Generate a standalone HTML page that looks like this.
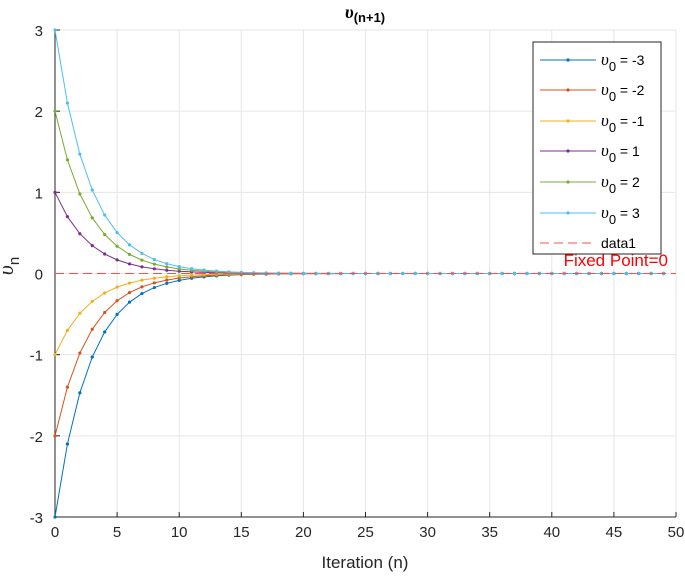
<!DOCTYPE html>
<html><head><meta charset="utf-8"><style>
body{margin:0;background:#fff}
svg{display:block;font-family:"Liberation Sans",sans-serif}
</style></head><body>
<svg id="c" width="685" height="577"></svg>
<script>
const iterations = [];
for (let i = 0; i < 50; i++) iterations.push(i);
const xTicks = [0,5,10,15,20,25,30,35,40,45,50];
const yTicks = [-3,-2,-1,0,1,2,3];
const seriesLabels = ['-3','-2','-1','1','2','3'];
const seriesColors = ['#0072BD','#D95319','#EDB120','#7E2F8E','#77AC30','#4DBEEE'];
const tail = new Array(25).fill(0);
const sNeg3 = [-3,-2.1,-1.47,-1.029,-0.72,-0.504,-0.353,-0.247,-0.173,-0.121,-0.085,-0.059,-0.042,-0.029,-0.020,-0.014,-0.010,-0.007,-0.005,-0.003,-0.002,-0.002,-0.001,-0.001,0].concat(tail);
const sNeg2 = [-2,-1.4,-0.98,-0.686,-0.48,-0.336,-0.235,-0.165,-0.115,-0.081,-0.056,-0.040,-0.028,-0.019,-0.014,-0.009,-0.007,-0.005,-0.003,-0.002,-0.002,-0.001,-0.001,0,0].concat(tail);
const sNeg1 = [-1,-0.7,-0.49,-0.343,-0.24,-0.168,-0.118,-0.082,-0.058,-0.04,-0.028,-0.020,-0.014,-0.010,-0.007,-0.005,-0.003,-0.002,-0.002,-0.001,-0.001,0,0,0,0].concat(tail);
const sPos1 = [1,0.7,0.49,0.343,0.24,0.168,0.118,0.082,0.058,0.04,0.028,0.020,0.014,0.010,0.007,0.005,0.003,0.002,0.002,0.001,0.001,0,0,0,0].concat(tail);
const sPos2 = [2,1.4,0.98,0.686,0.48,0.336,0.235,0.165,0.115,0.081,0.056,0.040,0.028,0.019,0.014,0.009,0.007,0.005,0.003,0.002,0.002,0.001,0.001,0,0].concat(tail);
const sPos3 = [3,2.1,1.47,1.029,0.72,0.504,0.353,0.247,0.173,0.121,0.085,0.059,0.042,0.029,0.020,0.014,0.010,0.007,0.005,0.003,0.002,0.002,0.001,0.001,0].concat(tail);
const allSeries = [sNeg3,sNeg2,sNeg1,sPos1,sPos2,sPos3];
const fixedPoint = 0;

const NS='http://www.w3.org/2000/svg';
const svg=document.getElementById('c');
const L=55,R=676,T=30,B=517;
const xs=v=>L+(v-0)/(50-0)*(R-L);
const ys=v=>B-(v+3)/6*(B-T);
function mk(tag,attrs,parent){const e=document.createElementNS(NS,tag);for(const k in attrs)e.setAttribute(k,attrs[k]);(parent||svg).appendChild(e);return e;}

const grid=mk('g',{});


xTicks.forEach(t=>{mk('line',{x1:xs(t),x2:xs(t),y1:T,y2:B,stroke:'#e6e6e6','stroke-width':1},grid);});
yTicks.forEach(t=>{mk('line',{x1:L,x2:R,y1:ys(t),y2:ys(t),stroke:'#e6e6e6','stroke-width':1},grid);});

const ax=mk('g',{});


mk('line',{x1:L,x2:L,y1:T,y2:B,stroke:'#262626','stroke-width':1},ax);
mk('line',{x1:L,x2:R,y1:B,y2:B,stroke:'#262626','stroke-width':1},ax);
xTicks.forEach(t=>{
  mk('line',{x1:xs(t),x2:xs(t),y1:B,y2:B-5,stroke:'#262626'},ax);
  const tx=mk('text',{x:xs(t),y:B+20,'text-anchor':'middle','font-size':15,fill:'#262626'},ax);
  tx.textContent=t;
  
  
});
yTicks.forEach(t=>{
  mk('line',{x1:L,x2:L+5,y1:ys(t),y2:ys(t),stroke:'#262626'},ax);
  const tx=mk('text',{x:L-12,y:ys(t)+6,'text-anchor':'end','font-size':15,fill:'#262626'},ax);
  tx.textContent=t;
  
  
});

allSeries.forEach((s,si)=>{
  const g=mk('g',{});
  
  
  mk('polyline',{points:s.map((v,i)=>xs(iterations[i])+','+ys(v)).join(' '),fill:'none',stroke:seriesColors[si],'stroke-width':1},g);
  s.forEach((v,i)=>{mk('circle',{cx:xs(iterations[i]),cy:ys(v),r:1.6,fill:seriesColors[si]},g);});
});

const fp=mk('line',{x1:L,x2:R,y1:ys(fixedPoint),y2:ys(fixedPoint),stroke:'#ff4d4d','stroke-width':1,'stroke-dasharray':'9,5'});



const fpt=mk('text',{x:668,y:266,'text-anchor':'end','font-size':17,fill:'#ff0000'});
fpt.textContent='Fixed Point=0';



const ttl=mk('text',{x:365,y:18,'text-anchor':'middle','font-size':15,'font-weight':'bold',fill:'#000'});
ttl.innerHTML='<tspan font-family="Liberation Serif" font-style="italic" font-size="18">υ</tspan><tspan dy="4" font-size="13">(n+1)</tspan>';



const xl=mk('text',{x:365,y:568,'text-anchor':'middle','font-size':17,fill:'#262626'});
xl.textContent='Iteration (n)';



const yl=mk('text',{x:0,y:0,transform:'translate(13,266) rotate(-90)','text-anchor':'middle','font-size':17,fill:'#262626'});
yl.innerHTML='<tspan font-family="Liberation Serif" font-style="italic" font-size="22">υ</tspan><tspan dy="6" font-size="15">n</tspan>';



const lg=mk('g',{});


mk('rect',{x:533,y:42,width:128,height:212,fill:'#fff',stroke:'#262626','stroke-width':1},lg);
const ly=[60,90,121,151,182,213];
seriesLabels.forEach((lab,i)=>{
  const e=mk('g',{},lg);
  
  
  mk('line',{x1:540,x2:596,y1:ly[i],y2:ly[i],stroke:seriesColors[i]},e);
  mk('circle',{cx:568,cy:ly[i],r:1.6,fill:seriesColors[i]},e);
  const t=mk('text',{x:601,y:ly[i]+5,'font-size':14,fill:'#000'},e);
  t.innerHTML='<tspan font-family="Liberation Serif" font-style="italic" font-size="17">υ</tspan><tspan dy="6" font-size="13">0</tspan><tspan dy="-6"> = '+lab+'</tspan>';
});
const e7=mk('g',{},lg);


mk('line',{x1:540,x2:596,y1:243,y2:243,stroke:'#ff4d4d','stroke-dasharray':'9,5'},e7);
const t7=mk('text',{x:601,y:248,'font-size':14,fill:'#000'},e7);
t7.textContent='data1';
</script>
</body></html>
